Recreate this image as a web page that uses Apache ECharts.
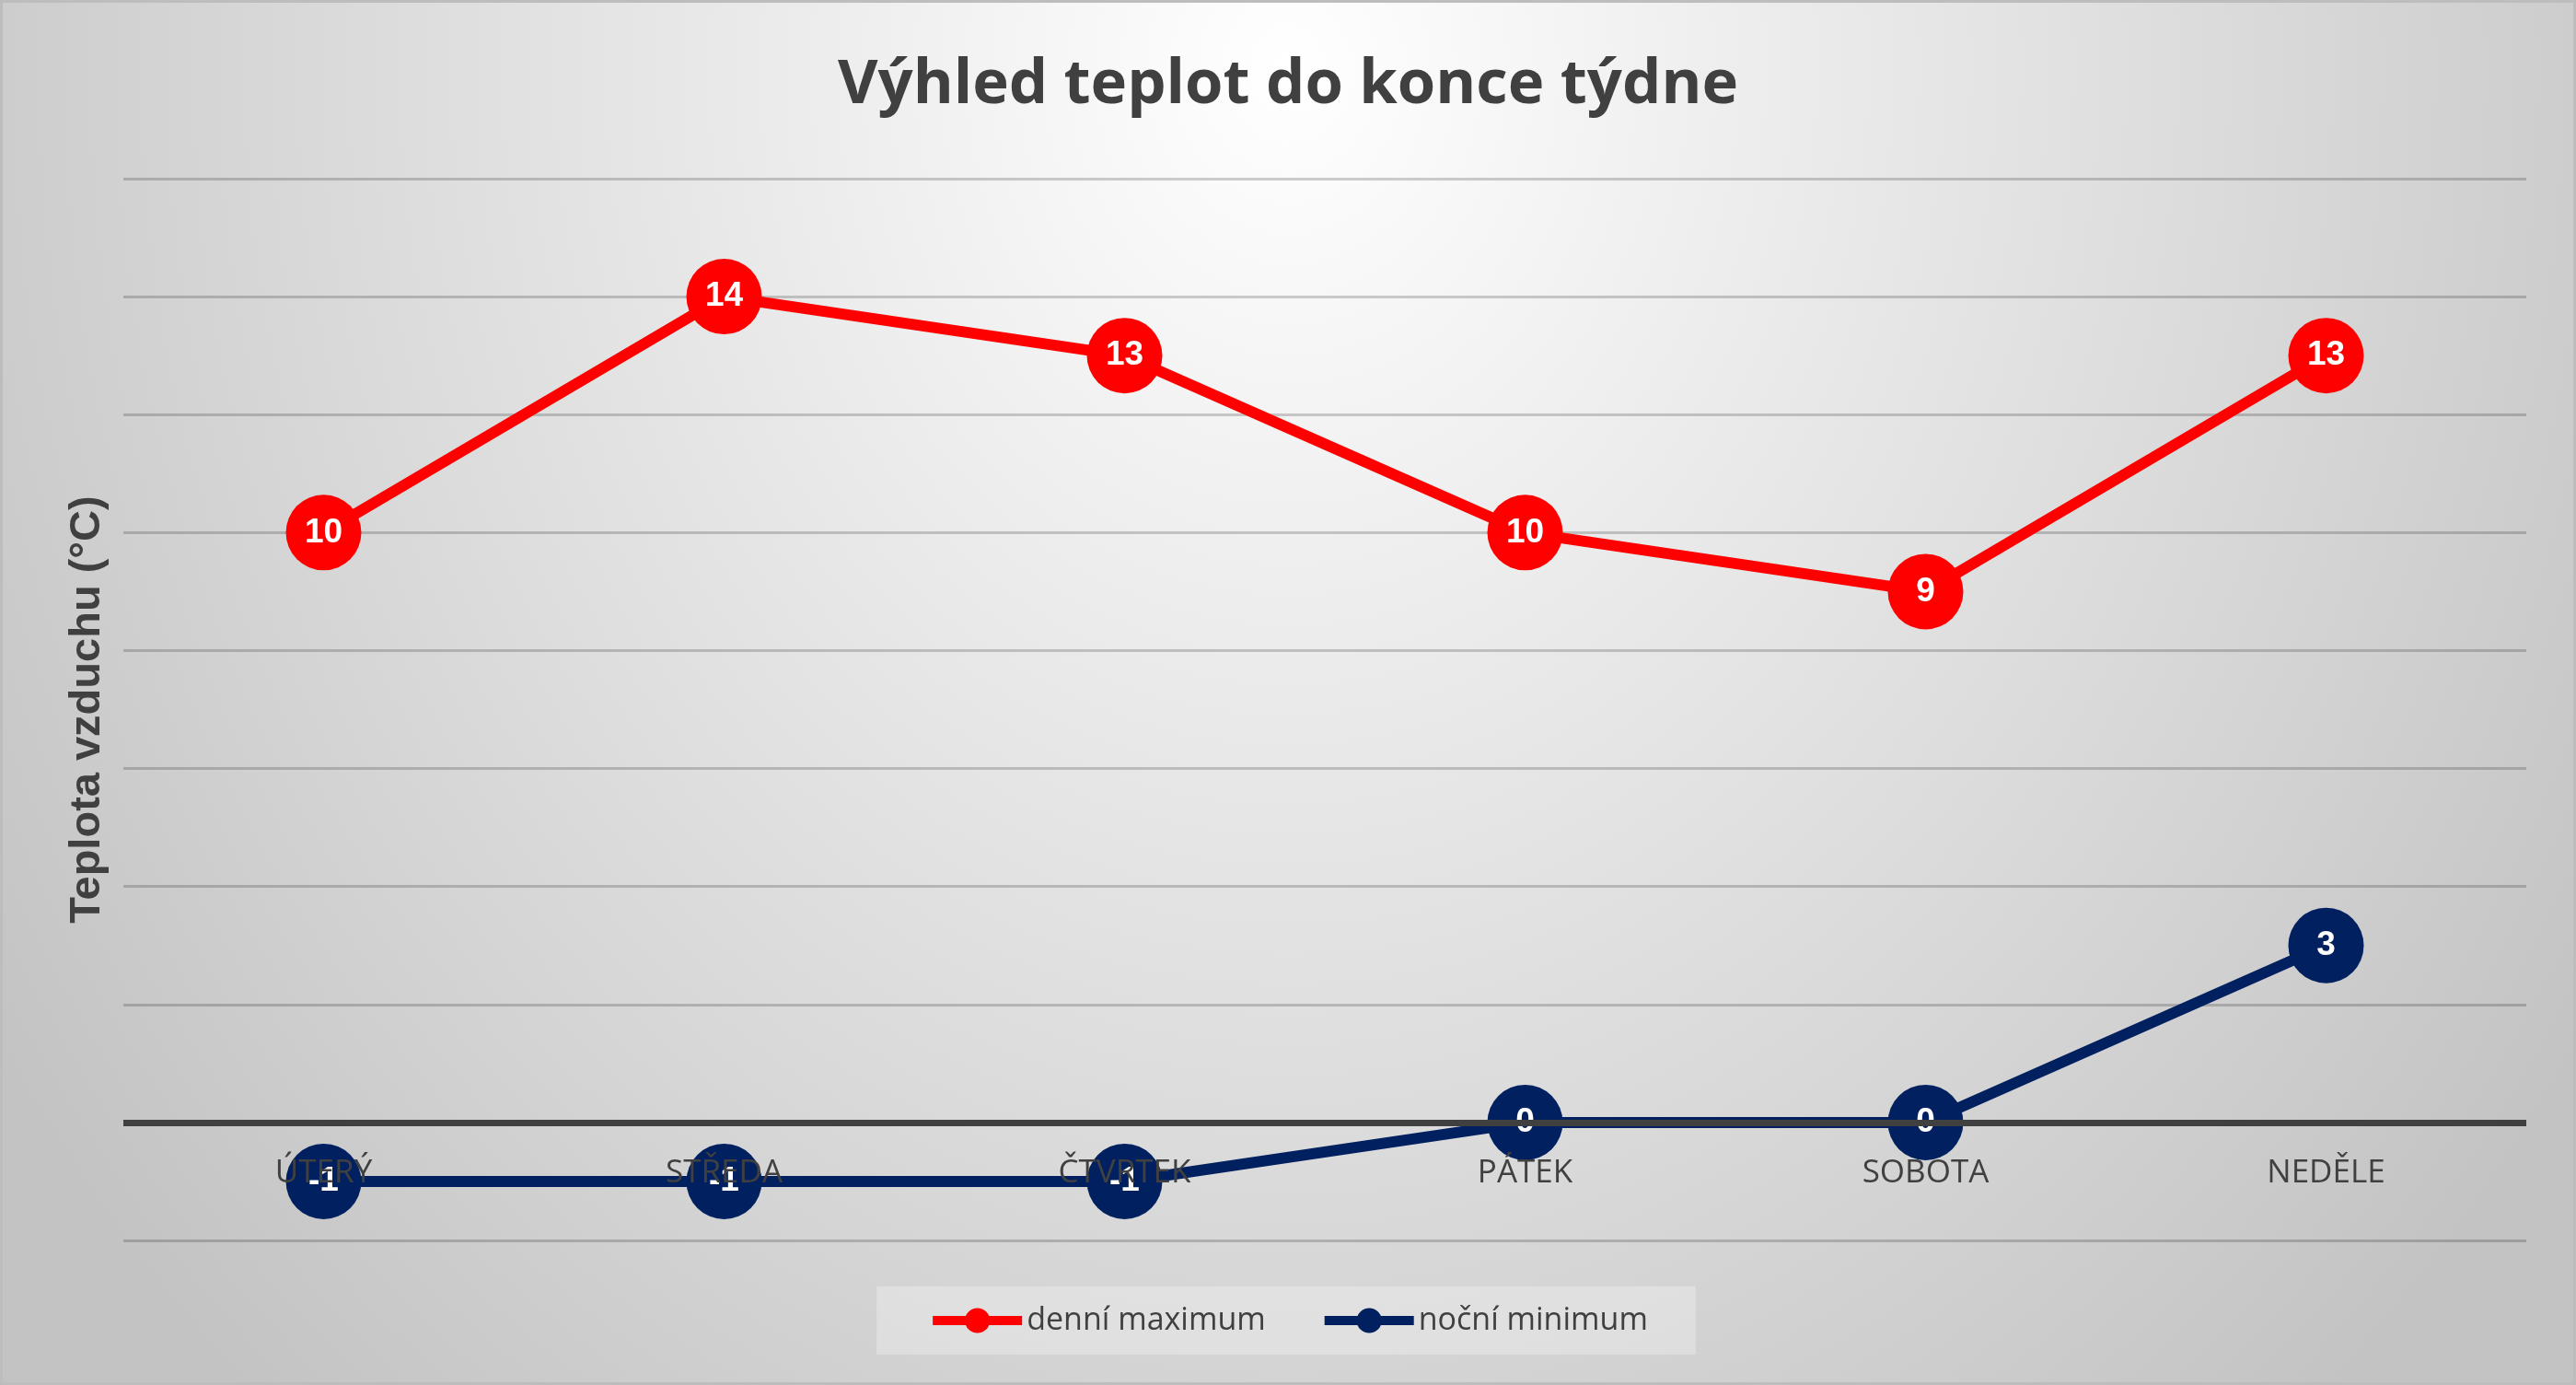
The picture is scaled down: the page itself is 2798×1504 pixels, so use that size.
<!DOCTYPE html>
<html><head><meta charset="utf-8">
<script src="https://cdn.jsdelivr.net/npm/echarts@6/dist/echarts.min.js"></script>
<style>
html,body{margin:0;padding:0;}
#wrap{position:relative;width:2798px;height:1504px;background:radial-gradient(ellipse 60% 130% at 50% 5%, #ffffff 0%, #c3c3c3 100%);}
#chart{position:absolute;left:0;top:0;width:2798px;height:1504px;}
#frame{position:absolute;left:0;top:0;width:2798px;height:1504px;box-sizing:border-box;border:3px solid #bdbdbd;pointer-events:none;}
</style></head>
<body><div id="wrap"><div id="chart"></div><div id="frame"></div></div>
<script>
const titleText = 'Výhled teplot do konce týdne';
const yAxisTitle = 'Teplota vzduchu (°C)';
const categories = ['ÚTERÝ', 'STŘEDA', 'ČTVRTEK', 'PÁTEK', 'SOBOTA', 'NEDĚLE'];
const dailyMax = [10, 14, 13, 10, 9, 13];
const nightMin = [-1, -1, -1, 0, 0, 3];
const seriesNames = ['denní maximum', 'noční minimum'];
const yMin = -2, yMax = 16, yStep = 2;

const gridTop = 194, gridBottom = 157, chartH = 1504;
const gridH = chartH - gridTop - gridBottom;
// place category axis at value 0 of the value axis
const zeroOffset = -gridH * (0 - yMin) / (yMax - yMin);

const chart = echarts.init(document.getElementById('chart'));
const labelStyle = {show: true, position: 'inside', color: '#ffffff', fontFamily: 'Liberation Sans', fontWeight: 'bold', fontSize: 37};
chart.setOption({
  animation: false,
  backgroundColor: 'transparent',
  title: {
    text: titleText, left: 'center', top: 54,
    textStyle: {fontFamily: 'Open Sans', fontWeight: 'bold', fontSize: 67, color: '#404040'}
  },
  legend: {
    left: 'center', top: 1397,
    itemWidth: 97, itemHeight: 34, itemGap: 59,
    padding: [20, 52, 20, 56],
    backgroundColor: 'rgba(255,255,255,0.28)',
    textStyle: {fontFamily: 'Open Sans', fontSize: 34, color: '#404040'},
    lineStyle: {width: 10},
    data: seriesNames
  },
  grid: {left: 134, right: 54, top: gridTop, bottom: gridBottom, containLabel: false},
  xAxis: {
    type: 'category', data: categories, z: 10,
    position: 'bottom', offset: zeroOffset,
    axisLine: {show: false, onZero: false},
    axisTick: {show: false},
    axisLabel: {color: '#404040', fontFamily: 'Open Sans', fontSize: 35, margin: 38}
  },
  yAxis: {
    type: 'value', min: yMin, max: yMax, interval: yStep,
    axisLabel: {show: false}, axisLine: {show: false}, axisTick: {show: false},
    splitLine: {lineStyle: {color: 'rgba(0,0,0,0.19)', width: 3}},
    name: yAxisTitle, nameLocation: 'middle', nameGap: 15, nameRotate: 90,
    nameTextStyle: {fontFamily: 'Liberation Sans', fontWeight: 'bold', fontSize: 47, color: '#404040'}
  },
  series: [
    {
      name: seriesNames[0], type: 'line', data: dailyMax,
      symbol: 'circle', symbolSize: 82,
      lineStyle: {color: '#ff0000', width: 12},
      itemStyle: {color: '#ff0000'},
      label: labelStyle,
      markLine: {
        silent: true, symbol: ['none', 'none'], label: {show: false},
        lineStyle: {color: '#404040', width: 7, type: 'solid'},
        data: [{yAxis: 0}]
      }
    },
    {
      name: seriesNames[1], type: 'line', data: nightMin,
      symbol: 'circle', symbolSize: 82,
      lineStyle: {color: '#002060', width: 12},
      itemStyle: {color: '#002060'},
      label: labelStyle
    }
  ]
});
</script>
</body></html>
